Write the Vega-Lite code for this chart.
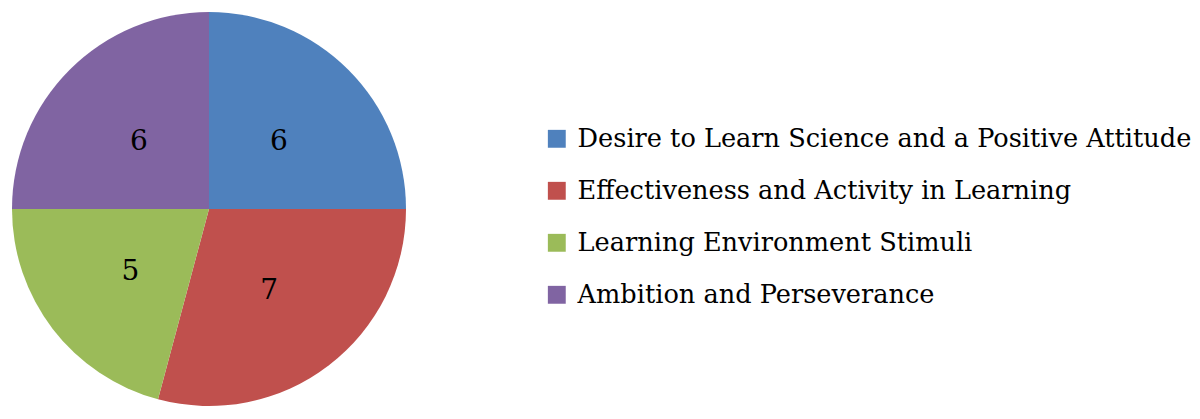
{
  "$schema": "https://vega.github.io/schema/vega-lite/v6.json",
  "width": 394,
  "height": 394,
  "padding": {"left": 12, "top": 12, "right": 0, "bottom": 0},
  "data": {
    "values": [
      {"category": "Desire to Learn Science and a Positive Attitude", "count": 6, "order": 1},
      {"category": "Effectiveness and Activity in Learning", "count": 7, "order": 2},
      {"category": "Learning Environment Stimuli", "count": 5, "order": 3},
      {"category": "Ambition and Perseverance", "count": 6, "order": 4}
    ]
  },
  "encoding": {
    "theta": {"field": "count", "type": "quantitative", "stack": true},
    "order": {"field": "order", "type": "quantitative"}
  },
  "layer": [
    {
      "mark": {"type": "arc"},
      "encoding": {
        "color": {
          "field": "category",
          "type": "nominal",
          "scale": {
            "domain": [
              "Desire to Learn Science and a Positive Attitude",
              "Effectiveness and Activity in Learning",
              "Learning Environment Stimuli",
              "Ambition and Perseverance"
            ],
            "range": ["#4F81BD", "#C0504D", "#9BBB59", "#8064A2"]
          },
          "legend": {
            "title": null,
            "orient": "none",
            "legendX": 532,
            "legendY": 114,
            "symbolType": "square",
            "symbolSize": 320,
            "symbolStrokeWidth": 0,
            "labelFont": "DejaVu Serif",
            "labelFontSize": 25.6,
            "labelColor": "black",
            "labelLimit": 800,
            "labelOffset": 8,
            "rowPadding": 25
          }
        }
      }
    },
    {
      "mark": {"type": "text", "radius": 99, "dy": 3, "font": "DejaVu Serif", "fontSize": 28, "color": "black"},
      "encoding": {"text": {"field": "count", "type": "quantitative"}}
    }
  ],
  "config": {"view": {"stroke": null}}
}
